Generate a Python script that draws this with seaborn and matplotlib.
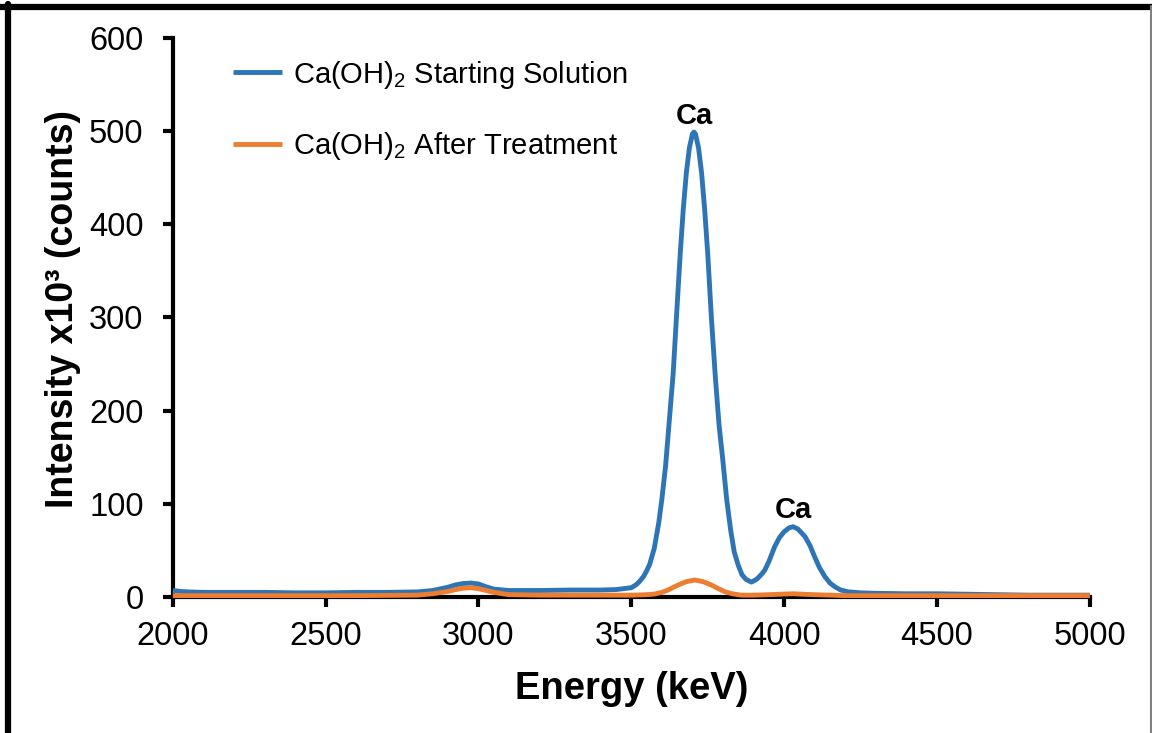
import matplotlib
matplotlib.use("Agg")
import matplotlib.pyplot as plt
from matplotlib.lines import Line2D
import pandas as pd
import seaborn as sns

# Energy spectra (keV) and intensities (x10^3 counts)
start_energy = [2000, 2025, 2050, 2100, 2200, 2300, 2400, 2500, 2600, 2700,
                2800, 2850, 2900, 2925, 2950, 2975, 3000, 3025, 3050, 3100,
                3200, 3300, 3400, 3450, 3475, 3500, 3515, 3525, 3540, 3550,
                3560, 3575, 3590, 3600, 3612, 3625, 3637, 3650, 3660, 3670,
                3680, 3690, 3700, 3705, 3710, 3720, 3730, 3740, 3750, 3762,
                3775, 3787, 3800, 3812, 3825, 3837, 3850, 3862, 3875, 3893,
                3910, 3925, 3937, 3950, 3969, 3985, 4000, 4015, 4029, 4045,
                4068, 4085, 4100, 4115, 4133, 4150, 4166, 4185, 4210, 4250,
                4300, 4400, 4500, 4600, 4700, 4800, 5000]
start_intensity = [7, 6, 5.5, 5, 5, 5, 4.5, 4.5, 5, 5,
                   5.5, 7, 10.5, 13, 14.5, 15, 14, 11, 8.5, 7,
                   7, 7.5, 7.5, 8, 9, 10, 13, 16, 22, 28,
                   35, 52, 80, 105, 140, 192, 240, 313, 368, 416,
                   455, 482, 497, 499, 497, 482, 455, 416, 369, 300,
                   236, 185, 145, 105, 72, 48, 34, 24, 19, 16,
                   19, 24, 29, 38, 54, 64, 70, 74, 75.5, 73,
                   65, 55, 43, 32, 22, 15, 11, 7.5, 5.6, 4.5,
                   4, 3.5, 3.5, 3, 2.5, 2, 2]

after_energy = [2000, 2100, 2200, 2400, 2600, 2800, 2850, 2900, 2925, 2950,
                2975, 3000, 3025, 3050, 3100, 3200, 3300, 3400, 3500, 3550,
                3576, 3600, 3620, 3653, 3680, 3707, 3735, 3762, 3785, 3806,
                3830, 3860, 3900, 3950, 4000, 4030, 4060, 4100, 4150, 4200,
                4400, 4600, 4800, 5000]
after_intensity = [1.5, 1.5, 1.5, 1.5, 1.5, 2, 3.5, 6, 8, 9.5,
                   10, 9, 7, 5, 2.5, 2, 2, 2, 2, 2.5,
                   3.2, 5, 7.5, 12.9, 16.5, 18.3, 16.5, 12.9, 9, 5.7,
                   3.5, 2, 2, 2.5, 3.2, 3.5, 3, 2.5, 2, 1.5,
                   1.5, 1.5, 1.5, 1.5]

series_names = ["Ca(OH)$_2$ Starting Solution", "Ca(OH)$_2$ After Treatment"]
series_colors = ["#2E75B6", "#ED7D31"]

peak_labels = ["Ca", "Ca"]
peak_energy = [3705, 4029]
peak_intensity = [499, 75.5]

x_ticks = [2000, 2500, 3000, 3500, 4000, 4500, 5000]
y_ticks = [0, 100, 200, 300, 400, 500, 600]

df = pd.concat([
    pd.DataFrame({"Energy": start_energy, "Intensity": start_intensity,
                  "Series": series_names[0]}),
    pd.DataFrame({"Energy": after_energy, "Intensity": after_intensity,
                  "Series": series_names[1]}),
], ignore_index=True)

sns.set_style("ticks")
plt.rcParams["font.family"] = ["Liberation Sans", "DejaVu Sans"]
plt.rcParams["mathtext.fontset"] = "custom"
plt.rcParams["mathtext.rm"] = "Liberation Sans"
plt.rcParams["mathtext.it"] = "Liberation Sans:italic"
plt.rcParams["mathtext.bf"] = "Liberation Sans:bold"
for key in ["text.color", "axes.labelcolor", "xtick.color", "ytick.color",
            "axes.edgecolor"]:
    plt.rcParams[key] = "black"

fig = plt.figure(figsize=(11.52, 7.33), dpi=100)
ax = fig.add_axes([0.150, 0.1855, 0.796, 0.7627])

sns.lineplot(data=df, x="Energy", y="Intensity", hue="Series",
             hue_order=series_names, palette=series_colors,
             estimator=None, sort=False, linewidth=3.5, ax=ax)
for line in ax.get_lines():
    line.set_zorder(3)
    line.set_clip_on(False)
    line.set_solid_capstyle("butt")
    line.set_solid_joinstyle("round")

ax.set_xlim(2000, 5000)
ax.set_ylim(0, 600)
ax.set_xticks(x_ticks)
ax.set_yticks(y_ticks)
ax.tick_params(axis="both", direction="out", length=7, width=3,
               labelsize=23.5, color="black", labelcolor="black")
ax.tick_params(axis="y", pad=14)
ax.tick_params(axis="x", pad=10)
for side in ["top", "right"]:
    ax.spines[side].set_visible(False)
for side in ["left", "bottom"]:
    ax.spines[side].set_linewidth(3)
    ax.spines[side].set_color("black")

ax.set_xlabel("Energy (keV)", fontsize=27.5, fontweight="bold", labelpad=14)
ax.set_ylabel("Intensity x10³ (counts)", fontsize=27, fontweight="bold")
ax.yaxis.set_label_coords(-0.1003, 0.516)

for label, e, v in zip(peak_labels, peak_energy, peak_intensity):
    ax.annotate(label, xy=(e, v), xytext=(0, 6), textcoords="offset points",
                ha="center", va="baseline", fontsize=21, fontweight="bold")

leg = ax.legend(loc="upper left", bbox_to_anchor=(0.0654, 0.963),
                frameon=False, fontsize=21, handlelength=1.7,
                handletextpad=0.35, labelspacing=1.35, borderpad=0,
                borderaxespad=0)
for h in leg.get_lines():
    h.set_linewidth(3.5)

# Frame lines around the figure
fig.add_artist(Line2D([0, 1], [1 - 6.5 / 733, 1 - 6.5 / 733],
                      transform=fig.transFigure, color="black", linewidth=4.5))
fig.add_artist(Line2D([7.5 / 1152, 7.5 / 1152], [0, 1 - 4 / 733],
                      transform=fig.transFigure, color="black", linewidth=4.5))
fig.add_artist(Line2D([1150.5 / 1152, 1150.5 / 1152], [0, 1 - 6 / 733],
                      transform=fig.transFigure, color="#808080", linewidth=1.5))

fig.savefig("out.png", dpi=100)
